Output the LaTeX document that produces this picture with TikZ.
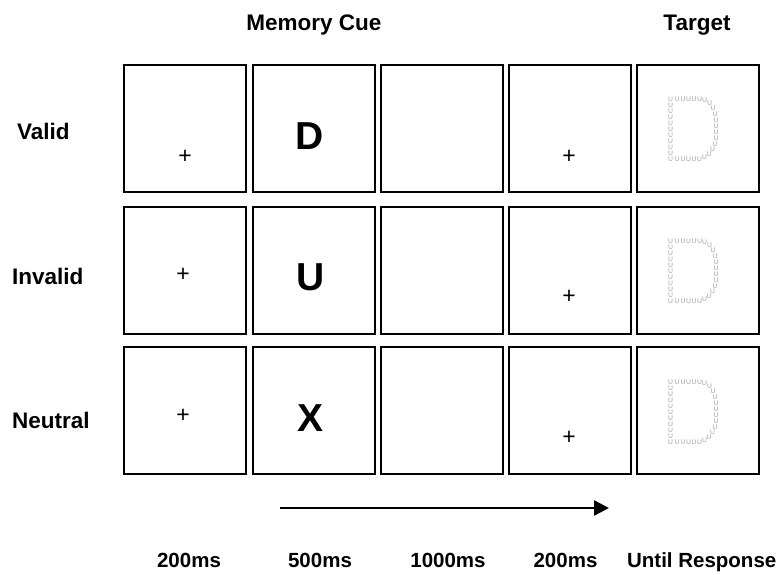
\documentclass[tikz,border=0pt]{standalone}
\usepackage{fontspec}
\setmainfont{Liberation Sans}
\usetikzlibrary{arrows.meta}
\begin{document}
\begin{tikzpicture}[x=1pt,y=-1pt,
  frame/.style={draw, line width=2pt, minimum width=122pt, minimum height=127pt, inner sep=0pt},
  toplab/.style={font=\bfseries\fontsize{22.5}{27}\selectfont, inner sep=0pt, anchor=base},
  rowlab/.style={font=\bfseries\fontsize{22.5}{27}\selectfont, inner sep=0pt, anchor=base west},
  timelab/.style={font=\bfseries\fontsize{20.5}{25}\selectfont, inner sep=0pt, anchor=base},
  cue/.style={font=\bfseries\fontsize{39}{45}\selectfont, inner sep=0pt, anchor=base},
  fix/.style={font=\fontsize{23}{27}\selectfont, inner sep=0pt, anchor=base},
  dotu/.style={font=\fontsize{6.8}{7}\selectfont, text=gray!75, inner sep=0pt}
]
\useasboundingbox (0,0) rectangle (782,574);

% titles
\node[toplab] (tmem) at (314,30) {Memory Cue};
\node[toplab] (ttar) at (697,30) {Target};

% row labels
\node[rowlab] (lvalid) at (17,139) {Valid};
\node[rowlab] (linvalid) at (12,284) {Invalid};
\node[rowlab] (lneutral) at (12,428) {Neutral};

% frames
\foreach \r/\y in {1/128,2/270,3/410}{
  \foreach \c/\x in {1/185.3,2/313.5,3/441.5,4/569.5,5/697.8}{
    \node[frame] (b\r\c) at (\x,\y) {};
  }
}

% fixation crosses
\node[fix] (f11) at (185,163) {+};
\node[fix] (f14) at (569,163) {+};
\node[fix] (f21) at (183,281) {+};
\node[fix] (f24) at (569,303) {+};
\node[fix] (f31) at (183,422) {+};
\node[fix] (f34) at (569,444) {+};

% memory cues
\node[cue] (c1) at (310,149) {D};
\node[cue] (c2) at (311,290) {U};
\node[cue] (c3) at (311,431) {X};

% targets: D made of small U letters
\foreach \tx/\ty [count=\k] in {668.5/97, 668.5/239, 668.5/380}{
  \begin{scope}[shift={(\tx,\ty)}]
    \foreach \px/\py [count=\j] in {
      2/2, 2/8, 2/14, 2/20, 2/26, 2/32, 2/38, 2/44, 2/50, 2/56, 2/62,
      8.5/2, 14.5/2, 20/2, 25.5/2, 31/2,
      36/3, 41/6.5, 44.5/11.5, 46.5/17,
      47.5/23, 47.5/29, 47.5/35, 47.5/41,
      46.5/47, 44/52.5, 40.5/57.5, 36/60.5,
      31/62, 25.5/62, 20/62, 14.5/62, 8.5/62}{
      \node[dotu] (u\k-\j) at (\px,\py) {U};
    }
  \end{scope}
}

% time arrow
\coordinate (a0) at (280,508);
\coordinate (a1) at (609,508);
\draw[line width=2.3pt, -{Triangle[length=15pt,width=15pt]}] (a0) -- (a1);

% durations
\node[timelab] (d1) at (189,567) {200ms};
\node[timelab] (d2) at (320,567) {500ms};
\node[timelab] (d3) at (448,567) {1000ms};
\node[timelab] (d4) at (565.5,567) {200ms};
\node[timelab] (d5) at (701.7,567) {Until Response};
\end{tikzpicture}
\end{document}
